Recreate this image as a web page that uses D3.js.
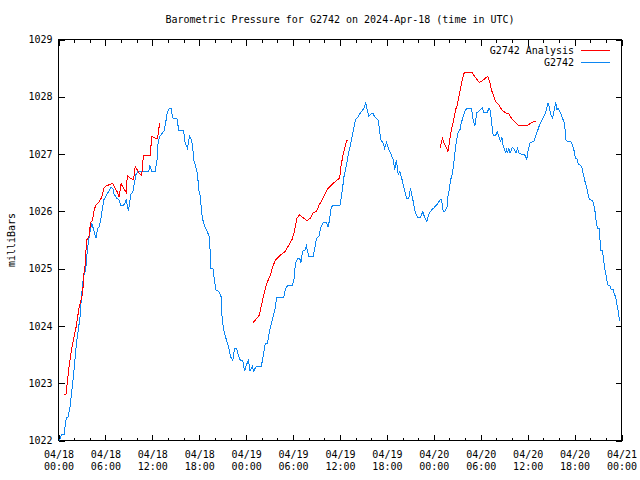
<!DOCTYPE html>
<html><head><meta charset="utf-8">
<script src="https://cdn.jsdelivr.net/npm/d3@7"></script>
<style>
body{margin:0;background:#fff}
text{font-family:"DejaVu Sans Mono","Liberation Mono",monospace;font-size:10px;fill:#000}
</style>
</head><body>
<svg id="chart" width="640" height="480"></svg>
<script>
const titleText = "Barometric Pressure for G2742 on 2024-Apr-18 (time in UTC)";
const yLabelText = "milliBars";
const seriesNames = ["G2742 Analysis", "G2742"];
const seriesColors = ["#ff0000", "#0c86f2"];
const yTicks = [1022, 1023, 1024, 1025, 1026, 1027, 1028, 1029];
const startTime = "2024-04-18T00:00:00Z";
const endTime = "2024-04-21T00:00:00Z";

// G2742 observations: hours since 2024-04-18 00:00 UTC, pressure in mb
const obsHours = [0.1,0.4,0.7,1.0,1.2,1.5,1.7,1.9,2.1,2.3,2.5,2.75,2.97,3.2,3.48,3.6,3.8,4.0,4.25,4.45,4.8,5.0,5.2,5.45,5.8,6.2,6.5,6.7,6.95,7.1,7.45,7.75,7.95,8.3,8.5,8.65,8.95,9.25,9.5,9.7,9.9,10.2,10.65,11.55,11.7,11.9,12.35,12.6,12.7,12.9,13.2,13.5,13.7,13.9,14.2,14.4,14.6,15.2,15.35,16.0,16.2,16.5,16.75,17.0,17.15,17.3,17.6,17.8,17.9,18.1,18.2,18.4,18.65,19.0,19.3,19.4,19.5,19.75,19.95,20.1,20.5,20.8,20.9,21.1,21.35,21.5,21.75,22.0,22.3,22.5,22.8,23.0,23.25,23.55,23.8,24.0,24.3,24.5,24.8,24.95,25.3,25.95,26.15,26.45,26.7,26.9,27.1,27.35,27.5,27.7,27.9,28.8,29.0,29.3,29.9,30.1,30.3,30.6,30.85,31.0,31.2,31.5,31.7,32.0,32.55,32.7,33.0,33.3,33.5,33.85,34.3,34.5,34.7,34.9,35.2,36.0,36.3,36.5,36.7,36.9,37.1,37.35,37.55,37.8,38.0,38.3,38.5,38.8,39.05,39.3,39.5,39.7,40.0,40.25,40.4,40.85,41.0,41.2,41.5,41.7,41.95,42.25,42.55,42.8,43.0,43.2,43.45,43.65,43.85,44.05,44.25,44.5,44.8,45.0,45.25,45.45,45.65,45.9,46.3,46.6,46.8,47.1,47.4,47.7,48.0,48.35,48.8,49.0,49.2,49.4,49.7,49.8,50.0,50.15,50.4,50.6,50.75,50.9,51.1,51.35,51.5,51.7,52.0,52.2,52.8,52.9,53.05,53.25,53.5,53.8,54.0,54.2,54.4,54.8,55.05,55.2,55.35,55.5,55.6,55.9,56.1,56.35,56.55,56.7,56.85,57.0,57.2,57.3,57.4,57.6,57.75,58.05,58.3,58.5,58.7,58.9,59.35,59.6,59.9,60.05,60.3,60.8,61.05,61.25,61.45,61.75,61.95,62.2,62.4,62.6,62.8,62.95,63.2,63.4,63.6,63.75,63.9,64.2,64.5,64.7,64.9,65.1,65.5,65.75,65.95,66.1,66.3,66.5,66.8,67.0,67.1,67.25,67.35,67.55,67.65,67.8,68.0,68.25,68.4,68.5,68.6,68.7,68.8,68.95,69.15,69.25,69.35,69.6,69.65,69.8,69.9,70.05,70.2,70.3,70.5,70.7,70.95,71.1,71.25,71.35,71.45,71.6,71.65,71.8];
const obsValues = [1022.0,1022.1,1022.1,1022.4,1022.4,1022.6,1022.87,1023.1,1023.4,1023.7,1023.9,1024.15,1024.57,1024.86,1024.97,1025.2,1025.44,1025.62,1025.8,1025.7,1025.53,1025.7,1025.73,1025.9,1026.2,1026.3,1026.37,1026.42,1026.4,1026.3,1026.23,1026.2,1026.11,1026.1,1026.15,1026.2,1026.0,1026.3,1026.33,1026.49,1026.64,1026.7,1026.7,1026.7,1026.8,1026.7,1026.7,1026.9,1027.16,1027.3,1027.35,1027.41,1027.54,1027.72,1027.8,1027.8,1027.63,1027.61,1027.41,1027.41,1027.19,1027.1,1027.31,1027.25,1027.13,1026.9,1026.75,1026.64,1026.4,1026.29,1026.14,1025.88,1025.76,1025.65,1025.56,1025.27,1025.0,1025.0,1024.8,1024.63,1024.6,1024.51,1024.19,1023.95,1023.81,1023.75,1023.63,1023.46,1023.4,1023.6,1023.6,1023.49,1023.4,1023.4,1023.21,1023.31,1023.4,1023.21,1023.3,1023.21,1023.3,1023.3,1023.46,1023.69,1023.69,1023.84,1023.98,1024.1,1024.2,1024.3,1024.5,1024.5,1024.63,1024.71,1024.71,1024.8,1025.09,1025.18,1025.18,1025.1,1025.3,1025.32,1025.4,1025.21,1025.21,1025.3,1025.53,1025.56,1025.7,1025.8,1025.8,1025.72,1025.9,1026.08,1026.11,1026.11,1026.37,1026.6,1026.72,1026.87,1027.02,1027.16,1027.31,1027.48,1027.6,1027.65,1027.7,1027.75,1027.8,1027.9,1027.75,1027.66,1027.7,1027.7,1027.66,1027.6,1027.48,1027.25,1027.2,1027.1,1027.2,1027.08,1026.99,1026.9,1026.72,1026.9,1026.64,1026.7,1026.6,1026.49,1026.37,1026.23,1026.23,1026.4,1026.25,1026.11,1025.97,1025.9,1025.9,1026.0,1025.9,1025.82,1025.97,1026.02,1026.06,1026.11,1026.2,1026.2,1026.0,1026.0,1026.08,1026.26,1026.4,1026.55,1026.67,1026.9,1027.09,1027.25,1027.37,1027.43,1027.54,1027.63,1027.75,1027.8,1027.8,1027.72,1027.57,1027.5,1027.72,1027.75,1027.78,1027.8,1027.72,1027.72,1027.8,1027.77,1027.6,1027.43,1027.32,1027.32,1027.4,1027.29,1027.22,1027.3,1027.16,1027.1,1027.02,1027.1,1027.02,1027.1,1027.02,1027.12,1027.08,1027.02,1027.1,1027.02,1026.99,1026.99,1026.91,1027.06,1027.2,1027.22,1027.32,1027.4,1027.48,1027.57,1027.63,1027.69,1027.78,1027.89,1027.8,1027.69,1027.63,1027.78,1027.9,1027.78,1027.8,1027.72,1027.61,1027.55,1027.25,1027.22,1027.22,1027.15,1027.05,1026.92,1026.92,1026.82,1026.8,1026.75,1026.65,1026.58,1026.51,1026.42,1026.35,1026.25,1026.2,1026.19,1026.15,1026.09,1026.01,1025.9,1025.78,1025.7,1025.7,1025.5,1025.31,1025.31,1025.21,1025.07,1024.97,1024.86,1024.75,1024.71,1024.71,1024.63,1024.63,1024.55,1024.51,1024.44,1024.34,1024.26,1024.17,1024.09];

// G2742 Analysis: null entries separate the three runs
const anaHours = [0.7,0.95,1.2,1.4,1.6,1.8,2.0,2.25,2.45,2.65,2.9,3.1,3.2,3.4,3.6,3.9,4.1,4.35,4.55,4.75,5.1,5.5,5.85,6.2,6.6,6.9,7.25,7.55,7.75,8.0,8.2,8.45,8.65,8.8,9.15,9.6,9.8,10.1,10.3,10.65,10.85,11.7,11.95,12.2,12.6,12.8,12.9,
  null,
  24.85,25.7,26.0,26.3,26.65,27.1,27.4,27.7,28.4,29.0,29.45,29.9,30.2,30.5,30.8,31.35,31.8,32.2,32.55,33.0,33.3,33.7,34.15,34.45,34.9,35.4,35.95,36.15,36.4,36.6,36.85,37.0,
  null,
  48.8,49.1,49.3,49.8,49.95,50.25,50.5,50.8,51.0,51.3,51.5,51.8,51.95,52.9,53.35,53.8,54.2,54.65,54.9,55.2,55.35,55.6,55.9,56.3,56.75,57.2,57.6,58.05,58.5,58.8,60.0,60.4,60.8,61.05];
const anaValues = [1022.8,1022.8,1023.11,1023.34,1023.52,1023.69,1023.81,1023.98,1024.16,1024.33,1024.46,1024.57,1024.86,1025.06,1025.5,1025.56,1025.8,1025.85,1026.02,1026.1,1026.15,1026.24,1026.42,1026.45,1026.47,1026.49,1026.4,1026.33,1026.25,1026.49,1026.43,1026.38,1026.33,1026.62,1026.58,1026.55,1026.78,1026.72,1026.67,1026.63,1026.97,1026.97,1027.31,1027.29,1027.27,1027.37,1027.54,
  null,
  1024.05,1024.19,1024.39,1024.57,1024.75,1024.89,1025.03,1025.14,1025.24,1025.3,1025.41,1025.52,1025.67,1025.88,1025.94,1025.88,1025.84,1025.88,1025.97,1026.0,1026.1,1026.2,1026.32,1026.4,1026.46,1026.52,1026.58,1026.81,1026.99,1027.1,1027.24,1027.24,
  null,
  1027.1,1027.28,1027.2,1027.05,1027.17,1027.43,1027.57,1027.78,1027.86,1028.07,1028.21,1028.39,1028.43,1028.42,1028.33,1028.25,1028.28,1028.33,1028.36,1028.24,1028.12,1028.04,1027.92,1027.86,1027.76,1027.72,1027.7,1027.6,1027.54,1027.5,1027.5,1027.54,1027.57,1027.57];

const svg = d3.select("#chart");
const L = 58.5, R = 621.5, T = 39.5, B = 440.5;
const t0 = new Date(startTime), t1 = new Date(endTime);
const hr = h => new Date(t0.getTime() + h * 3600000);

const x = d3.scaleUtc().domain([t0, t1]).range([L, R]);
const y = d3.scaleLinear().domain([1022, 1029]).range([B, T]);

const obs = obsHours.map((h, i) => ({t: hr(h), v: obsValues[i]}));
const ana = anaHours.map((h, i) => ({t: h == null ? null : hr(h), v: anaValues[i]}));

// axes
const majorX = d3.utcHour.every(6).range(t0, new Date(t1.getTime() + 1));
const minorX = d3.utcHour.every(2).range(t0, new Date(t1.getTime() + 1));

function clean(g) { g.select(".domain").remove(); g.selectAll("line").attr("stroke", "#000").attr("shape-rendering", "crispEdges"); }

svg.append("g").attr("transform", `translate(0,${B})`)
  .call(d3.axisBottom(x).tickValues(minorX).tickSize(-3).tickFormat(""))
  .call(clean);
svg.append("g").attr("transform", `translate(0,${T})`)
  .call(d3.axisTop(x).tickValues(minorX).tickSize(-3).tickFormat(""))
  .call(clean);
svg.append("g").attr("transform", `translate(0,${T})`)
  .call(d3.axisTop(x).tickValues(majorX).tickSize(-6).tickFormat(""))
  .call(clean);

const fmtD = d3.utcFormat("%m/%d"), fmtH = d3.utcFormat("%H:%M");
const bx = svg.append("g").attr("transform", `translate(0,${B})`)
  .call(d3.axisBottom(x).tickValues(majorX).tickSize(-6).tickFormat(""))
  .call(clean);
bx.selectAll(".tick text").each(function(d) {
  const tx = d3.select(this).attr("y", null).attr("dy", null);
  tx.append("tspan").attr("x", 0).attr("y", 17.5).text(fmtD(d));
  tx.append("tspan").attr("x", 0).attr("y", 29.5).text(fmtH(d));
});
bx.selectAll("text").attr("font-family", null).attr("font-size", null);

const ly = svg.append("g").attr("transform", `translate(${L},0)`)
  .call(d3.axisLeft(y).tickValues(yTicks).tickSize(-6).tickPadding(6).tickFormat(d3.format("d")))
  .call(clean);
ly.selectAll("text").attr("font-family", null).attr("font-size", null);
svg.append("g").attr("transform", `translate(${R},0)`)
  .call(d3.axisRight(y).tickValues(yTicks).tickSize(-6).tickFormat(""))
  .call(clean);

svg.append("rect").attr("x", L).attr("y", T).attr("width", R - L).attr("height", B - T)
  .attr("fill", "none").attr("stroke", "#000").attr("shape-rendering", "crispEdges");

// clip
svg.append("clipPath").attr("id", "clip").append("rect")
  .attr("x", L).attr("y", T).attr("width", R - L).attr("height", B - T);

const line = d3.line().defined(d => d.t != null && d.v != null).x(d => x(d.t)).y(d => y(d.v));

const plot = svg.append("g").attr("clip-path", "url(#clip)");
plot.append("path").datum(obs).attr("d", line).attr("fill", "none")
  .attr("stroke", seriesColors[1]).attr("stroke-width", 1).attr("shape-rendering", "crispEdges");
plot.append("path").datum(ana).attr("d", line).attr("fill", "none")
  .attr("stroke", seriesColors[0]).attr("stroke-width", 1).attr("shape-rendering", "crispEdges");

// title and labels
svg.append("text").attr("x", (L + R) / 2).attr("y", 23).attr("text-anchor", "middle").text(titleText);
svg.append("text").attr("transform", "translate(15,240) rotate(-90)").attr("text-anchor", "middle").text(yLabelText);

// legend
const leg = svg.append("g");
seriesNames.forEach((name, i) => {
  const yy = 50.5 + i * 12;
  leg.append("text").attr("x", 574).attr("y", yy + 3.5).attr("text-anchor", "end").text(name);
  leg.append("line").attr("x1", 581).attr("x2", 610).attr("y1", yy).attr("y2", yy)
    .attr("stroke", seriesColors[i]).attr("shape-rendering", "crispEdges");
});
</script>
</body></html>
